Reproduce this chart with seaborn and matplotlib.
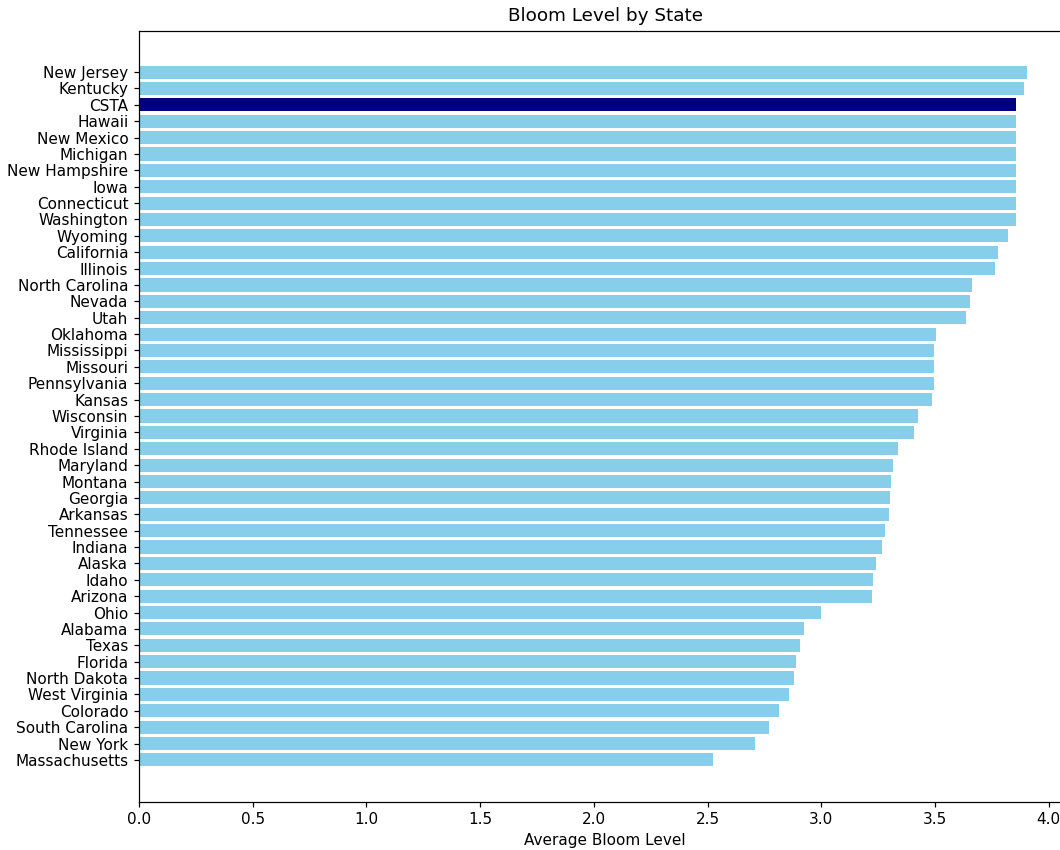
import pandas as pd
import matplotlib
matplotlib.use("Agg")
import matplotlib.pyplot as plt
import seaborn as sns

# ==========================================
# DATA
# ==========================================
states = [
    "New Jersey", "Kentucky", "CSTA", "Hawaii", "New Mexico", "Michigan",
    "New Hampshire", "Iowa", "Connecticut", "Washington", "Wyoming",
    "California", "Illinois", "North Carolina", "Nevada", "Utah",
    "Oklahoma", "Mississippi", "Missouri", "Pennsylvania", "Kansas",
    "Wisconsin", "Virginia", "Rhode Island", "Maryland", "Montana",
    "Georgia", "Arkansas", "Tennessee", "Indiana", "Alaska", "Idaho",
    "Arizona", "Ohio", "Alabama", "Texas", "Florida", "North Dakota",
    "West Virginia", "Colorado", "South Carolina", "New York",
    "Massachusetts",
]
bloom = [
    3.903, 3.893, 3.855, 3.855, 3.855, 3.855,
    3.855, 3.855, 3.855, 3.855, 3.820,
    3.778, 3.763, 3.663, 3.655, 3.637,
    3.506, 3.497, 3.497, 3.495, 3.487,
    3.425, 3.409, 3.339, 3.314, 3.305,
    3.301, 3.297, 3.279, 3.267, 3.241, 3.228,
    3.223, 3.000, 2.925, 2.905, 2.888, 2.880,
    2.857, 2.813, 2.770, 2.709,
    2.526,
]
highlight = "CSTA"

df = pd.DataFrame({"state": states, "bloom": bloom})
df["group"] = ["CSTA" if s == highlight else "State" for s in df["state"]]

# ==========================================
# PLOT
# ==========================================
fig = plt.figure(figsize=(1060 / 110, 850 / 110), dpi=110)
# axes run slightly past the right edge, like the cropped original
ax = fig.add_axes([139 / 1060, 48.5 / 850, 932 / 1060, 771 / 850])

sns.barplot(data=df, x="bloom", y="state", hue="group",
            palette={"State": "skyblue", "CSTA": "navy"},
            dodge=False, saturation=1, legend=False, width=0.8, ax=ax)

# same 5% margins matplotlib's barh would give
n = len(states)
pad = 0.05 * (n - 1 + 0.8)
ax.set_ylim(n - 1 + 0.4 + pad, -0.4 - pad)
ax.set_xlim(0, max(bloom) * 1.05)

ax.set_title("Bloom Level by State")
ax.set_xlabel("Average Bloom Level")
ax.set_ylabel("")

fig.savefig("out.png", dpi=110)
plt.close(fig)
